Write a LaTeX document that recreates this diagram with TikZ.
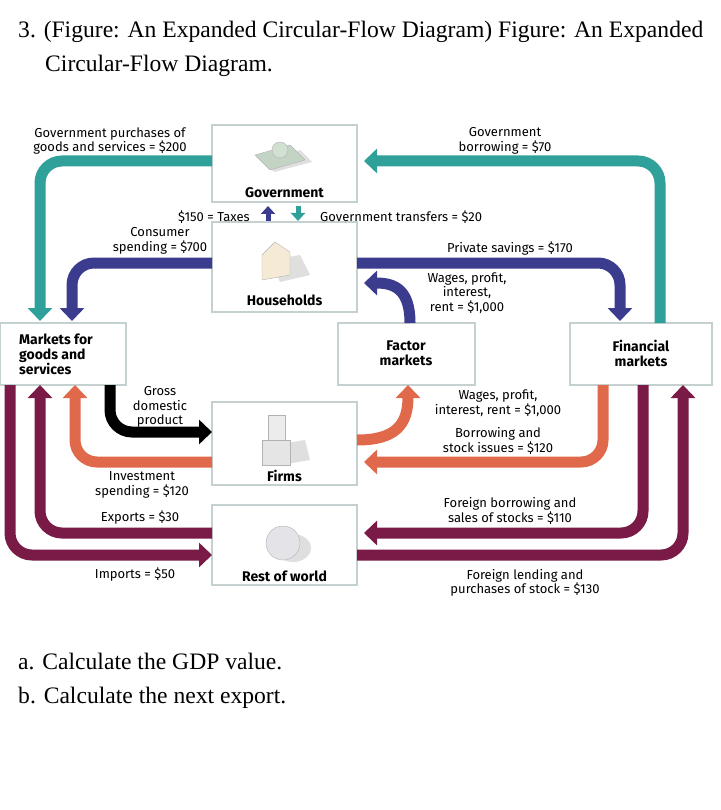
\documentclass[tikz,border=0pt]{standalone}
\usepackage{fontspec}
\setmainfont{Liberation Serif}
\newfontfamily\dfont{Fira Sans}
\usetikzlibrary{arrows.meta}
\definecolor{cteal}{HTML}{2FA19A}
\definecolor{cblue}{HTML}{3C3C8E}
\definecolor{corange}{HTML}{E0694C}
\definecolor{cmaroon}{HTML}{7A1A46}
\definecolor{cbox}{HTML}{C5D0D0}
\begin{document}
\begin{tikzpicture}[x=1pt,y=-1pt,
  box/.style={draw=cbox,line width=2pt,fill=white},
  flow/.style={line width=11pt,rounded corners=22pt,-{Triangle[width=24pt,length=13pt]}},
  lab/.style={font=\dfont\fontsize{13}{14.5}\selectfont,align=center,inner sep=0},
  blab/.style={font=\dfont\bfseries\fontsize{14}{15}\selectfont,align=center,inner sep=0},
  ttl/.style={font=\fontsize{23.6}{26}\selectfont,anchor=base west,inner sep=0}]
\useasboundingbox (0,0) rectangle (720,810);
\fill[white] (0,0) rectangle (720,810);
% title
\node[ttl] (t1) at (18,38) {3. (Figure: An Expanded Circular-Flow Diagram) Figure: An Expanded};
\node[ttl] (t2) at (45,72) {Circular-Flow Diagram.};
\node[ttl] (qa) at (18,669) {a. Calculate the GDP value.};
\node[ttl] (qb) at (18,703) {b. Calculate the next export.};
% boxes
\draw[box] (212,125) rectangle (357,202);
\draw[box] (212,222) rectangle (357,312);
\draw[box] (0,323) rectangle (126,385);
\draw[box] (338,323) rectangle (475,385);
\draw[box] (570,323) rectangle (712,385);
\draw[box] (212,402) rectangle (357,485);
\draw[box] (212,505) rectangle (357,585);
% coordinates
\coordinate (gL) at (212,161); \coordinate (gR) at (364,161);
\coordinate (hL) at (212,263); \coordinate (hR) at (357,263); \coordinate (hR2) at (364,283);
\coordinate (mT1) at (40,321); \coordinate (mT2) at (72,321);
\coordinate (mB0) at (10,385); \coordinate (mB1) at (40,385); \coordinate (mB2) at (75,385); \coordinate (mB3) at (110,385);
\coordinate (fT) at (410,323); \coordinate (fB) at (408,385);
\coordinate (nT1) at (620,321); \coordinate (nT2) at (660,323);
\coordinate (nB1) at (603,385); \coordinate (nB2) at (643,385); \coordinate (nB3) at (683,385);
\coordinate (pL1) at (212,432); \coordinate (pL2) at (212,462); \coordinate (pR1) at (357,440); \coordinate (pR2) at (364,462);
\coordinate (wL1) at (212,533); \coordinate (wL2) at (212,555); \coordinate (wR1) at (364,533); \coordinate (wR2) at (357,555);
% teal
\draw[flow,cteal] (gL) -- (40,161) -- (mT1);
\draw[flow,cteal] (nT2) -- (660,161) -- (gR);
% taxes / transfers
\draw[cblue,line width=5pt,-{Triangle[width=14pt,length=8pt]}] (268,221) -- (268,206);
\draw[cteal,line width=5pt,-{Triangle[width=14pt,length=8pt]}] (298,206) -- (298,221);
% blue
\draw[flow,cblue] (hL) -- (72,263) -- (mT2);
\draw[flow,cblue] (hR) -- (620,263) -- (nT1);
\draw[flow,cblue,rounded corners=0] (fT) .. controls (410,290) and (395,283) .. (hR2);
% gdp
\draw[flow,black] (mB3) -- (110,432) -- (pL1);
% orange
\draw[flow,corange] (pL2) -- (75,462) -- (mB2);
\draw[flow,corange,rounded corners=0] (pR1) .. controls (395,440) and (408,425) .. (fB);
\draw[flow,corange] (nB1) -- (603,462) -- (pR2);
% maroon
\draw[flow,cmaroon] (wL1) -- (40,533) -- (mB1);
\draw[flow,cmaroon] (mB0) -- (10,555) -- (wL2);
\draw[flow,cmaroon] (nB2) -- (643,533) -- (wR1);
\draw[flow,cmaroon] (wR2) -- (683,555) -- (nB3);
% icons
\fill[gray!25] (262,160) -- (300,150) -- (312,162) -- (274,172) -- cycle;
\fill[green!15!gray!40] (255,155) -- (290,145) -- (305,160) -- (270,170) -- cycle;
\draw[gray!60] (255,155) -- (290,145) -- (305,160) -- (270,170) -- cycle;
\fill[green!20!gray!30,draw=gray!60] (280,150) circle (8);
\fill[gray!25] (270,260) -- (300,255) -- (310,275) -- (280,282) -- cycle;
\fill[yellow!15!brown!20,draw=gray!60] (262,255) -- (275,242) -- (290,252) -- (290,275) -- (262,280) -- cycle;
\fill[gray!25] (275,445) -- (305,440) -- (310,460) -- (280,465) -- cycle;
\fill[gray!20,draw=gray!60] (262,440) rectangle (290,465);
\fill[gray!15,draw=gray!60] (268,415) rectangle (285,440);
\fill[gray!25] (293,548) ellipse (18 and 14);
\fill[blue!10!gray!20,draw=gray!60] (283,543) circle (17);
% box labels
\node[blab] (lgov) at (284.5,193) {Government};
\node[blab] (lhh) at (284.5,300) {Households};
\node[blab,align=left] (lmk) at (56,354) {Markets for\\goods and\\services};
\node[blab] (lfac) at (406,353) {Factor\\markets};
\node[blab] (lfin) at (641,353) {Financial\\markets};
\node[blab] (lfirm) at (284.5,476) {Firms};
\node[blab] (lrow) at (284.5,576) {Rest of world};
% flow labels
\node[lab] (l1) at (110,141) {Government purchases of\\goods and services = \$200};
\node[lab] (l2) at (505,141) {Government\\borrowing = \$70};
\node[lab,anchor=east] (l3) at (250,217) {\$150 = Taxes};
\node[lab,anchor=west] (l4) at (320,217) {Government transfers = \$20};
\node[lab] (l5) at (160,241) {Consumer\\spending = \$700};
\node[lab] (l6) at (510,249) {Private savings = \$170};
\node[lab] (l7) at (467,293) {Wages, profit,\\interest,\\rent = \$1,000};
\node[lab] (l8) at (160,407) {Gross\\domestic\\product};
\node[lab] (l9) at (498,403) {Wages, profit,\\interest, rent = \$1,000};
\node[lab] (l10) at (498,441) {Borrowing and\\stock issues = \$120};
\node[lab] (l11) at (142,485) {Investment\\spending = \$120};
\node[lab] (l12) at (510,511) {Foreign borrowing and\\sales of stocks = \$110};
\node[lab] (l13) at (140,518) {Exports = \$30};
\node[lab] (l14) at (135,575) {Imports = \$50};
\node[lab] (l15) at (525,583) {Foreign lending and\\purchases of stock = \$130};
\end{tikzpicture}
\end{document}
